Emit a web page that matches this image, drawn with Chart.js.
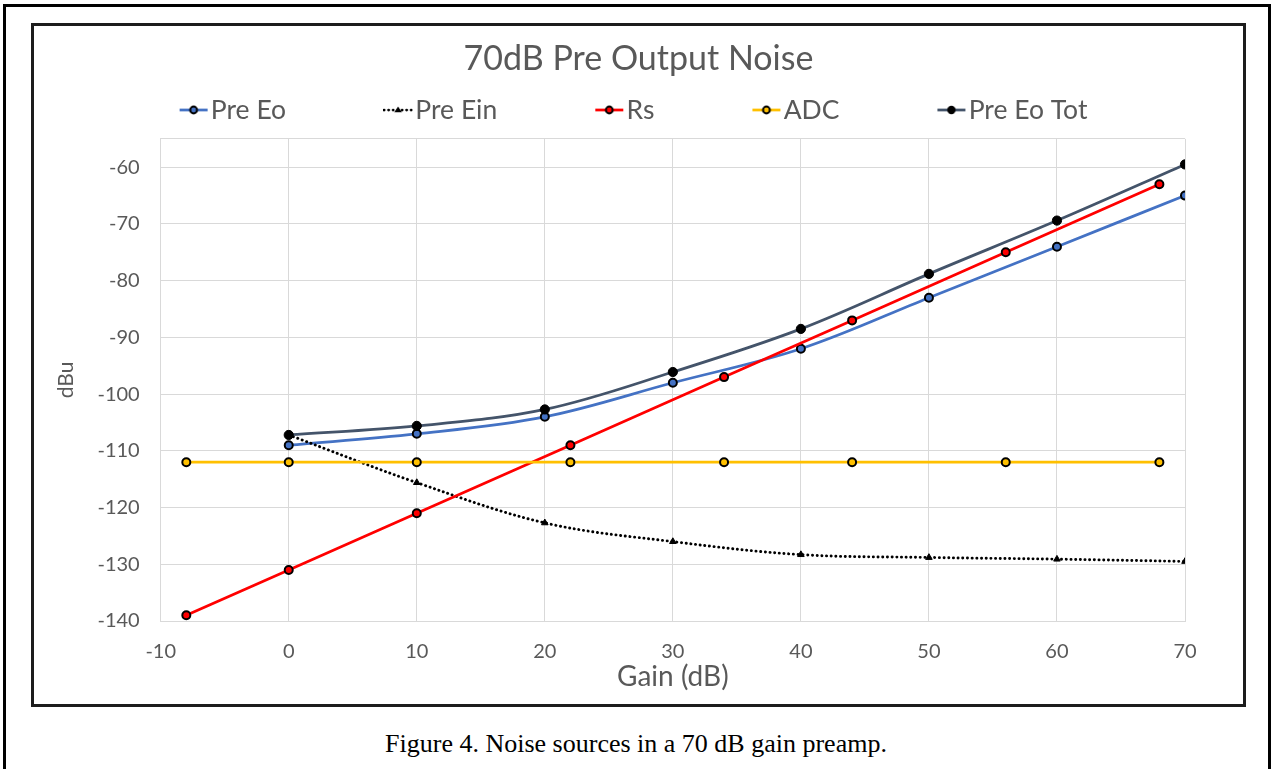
<!DOCTYPE html>
<html><head><meta charset="utf-8">
<script src="https://cdn.jsdelivr.net/npm/chart.js@4.4.1/dist/chart.umd.min.js"></script>
<style>
html,body{margin:0;padding:0;background:#fff;width:1272px;height:769px;overflow:hidden;}
#outer{position:absolute;left:3px;top:4px;width:1268px;height:800px;border:3px solid #000;box-sizing:border-box;}
#inner{position:absolute;left:31px;top:23px;width:1215px;height:684px;border:3px solid #1c1c1c;box-sizing:border-box;background:#fff;}
#wrap{position:absolute;left:34px;top:26px;width:1209px;height:678px;}
#caption{position:absolute;left:0;width:1272px;top:731px;text-align:center;font-family:"Liberation Serif","Times New Roman",serif;font-size:26px;line-height:26px;color:#000;}
</style></head>
<body>
<div id="outer"></div><div id="inner"></div>
<div id="wrap"><canvas id="c" width="1209" height="678"></canvas></div>
<div id="caption">Figure 4. Noise sources in a 70 dB gain preamp.</div>
<script>
// ---- data ----
const chartTitle = '70dB Pre Output Noise';
const xAxisTitle = 'Gain (dB)';
const yAxisTitle = 'dBu';
const seriesNames = ['Pre Eo', 'Pre Ein', 'Rs', 'ADC', 'Pre Eo Tot'];
const gainMain = [0, 10, 20, 30, 40, 50, 60, 70];
const gainRsAdc = [-8, 0, 10, 22, 34, 44, 56, 68];
const preEo = [-109, -107, -104, -98, -92, -83, -74, -65];
const preEin = [-107.2, -115.6, -122.7, -126, -128.3, -128.8, -129.1, -129.5];
const rs = [-139, -131, -121, -109, -97, -87, -75, -63];
const adc = [-112, -112, -112, -112, -112, -112, -112, -112];
const preEoTot = [-107.2, -105.6, -102.7, -96.1, -88.5, -78.8, -69.4, -59.5];
const xTicks = [-10, 0, 10, 20, 30, 40, 50, 60, 70];
const yTicks = [-140, -130, -120, -110, -100, -90, -80, -70, -60];
const yTop = -55;

// ---- styles ----
const colors = ['#4472C4', '#000000', '#FF0000', '#FFC000', '#44546A'];
const textColor = '#595959';
const gridColor = '#D9D9D9';
const FONT = 'Lato';
const LEGEND_FONT = 26.5;

function pts(xs, ys) { return xs.map((x, i) => ({x: x, y: ys[i]})); }

function legendImg(i) {
  const c = document.createElement('canvas');
  c.width = 30; c.height = 14;
  const g = c.getContext('2d');
  g.strokeStyle = colors[i];
  g.lineWidth = 2.75;
  if (i === 1) { g.setLineDash([0.1, 4.4]); g.lineCap = 'round'; }
  g.beginPath(); g.moveTo(1, 7); g.lineTo(29, 7); g.stroke();
  g.setLineDash([]);
  g.beginPath();
  if (i === 1) {
    g.moveTo(15, 3.5); g.lineTo(18.8, 9.2); g.lineTo(11.2, 9.2); g.closePath();
    g.fillStyle = '#000'; g.fill();
  } else if (i === 4) {
    g.arc(15, 7, 4.2, 0, Math.PI * 2); g.fillStyle = '#000'; g.fill();
  } else {
    g.arc(15, 7, 3.4, 0, Math.PI * 2); g.fillStyle = colors[i]; g.fill();
    g.lineWidth = 2; g.strokeStyle = '#000'; g.stroke();
  }
  return c;
}
const legendImgs = seriesNames.map((_, i) => legendImg(i));

const LEGEND_CENTER_Y = 84;
const legendPlace = {
  id: 'legendPlace',
  afterLayout(chart) {
    const lg = chart.legend;
    if (!lg) return;
    const pad = lg.options.labels.padding;
    const fs = lg.options.labels.font.size;
    lg.top = LEGEND_CENTER_Y - fs / 2 - pad;
  }
};

const common = {borderWidth: 2.75, pointBorderColor: '#000', pointBorderWidth: 2, pointRadius: 4, pointHoverRadius: 4};

new Chart(document.getElementById('c'), {
  type: 'line',
  data: {
    datasets: [
      Object.assign({}, common, {label: seriesNames[0], data: pts(gainMain, preEo), borderColor: colors[0], backgroundColor: colors[0], pointBackgroundColor: colors[0], tension: 0.35, order: 4}),
      Object.assign({}, common, {label: seriesNames[1], data: pts(gainMain, preEin), borderColor: '#000', backgroundColor: '#000', pointBackgroundColor: '#000', pointStyle: 'triangle', pointRadius: 3.8, pointBorderWidth: 1, borderWidth: 2.9, borderDash: [0.1, 4.6], borderCapStyle: 'round', tension: 0.35, order: 3}),
      Object.assign({}, common, {label: seriesNames[2], data: pts(gainRsAdc, rs), borderColor: colors[2], backgroundColor: colors[2], pointBackgroundColor: colors[2], tension: 0, order: 2}),
      Object.assign({}, common, {label: seriesNames[3], data: pts(gainRsAdc, adc), borderColor: colors[3], backgroundColor: colors[3], pointBackgroundColor: colors[3], tension: 0, order: 1}),
      Object.assign({}, common, {label: seriesNames[4], data: pts(gainMain, preEoTot), borderColor: colors[4], backgroundColor: '#000', pointBackgroundColor: '#000', pointRadius: 4.6, pointBorderWidth: 1, tension: 0.35, order: 0})
    ]
  },
  options: {
    responsive: false,
    devicePixelRatio: 1,
    animation: false,
    layout: {padding: 0},
    plugins: {
      tooltip: {enabled: false},
      title: {
        display: true, text: chartTitle, color: textColor,
        font: {family: FONT, size: 34, weight: 'normal'},
        padding: {top: 13, bottom: 0}
      },
      legend: {
        display: true, position: 'top', maxHeight: 59.1,
        labels: {
          usePointStyle: true, pointStyleWidth: 8, padding: 108,
          color: textColor, font: {family: FONT, size: LEGEND_FONT},
          generateLabels: (chart) => chart.data.datasets.map((ds, i) => ({
            text: ds.label, pointStyle: legendImgs[i], datasetIndex: i,
            fontColor: textColor, hidden: !chart.isDatasetVisible(i),
            lineWidth: 0, strokeStyle: 'rgba(0,0,0,0)', fillStyle: 'rgba(0,0,0,0)'
          }))
        }
      }
    },
    scales: {
      x: {
        type: 'linear', min: xTicks[0], max: xTicks[xTicks.length - 1],
        afterBuildTicks: (s) => { s.ticks = xTicks.map(v => ({value: v})); },
        afterFit: (s) => { s.height = 83; },
        grid: {color: gridColor, lineWidth: 1, drawTicks: false},
        border: {color: gridColor, width: 1},
        ticks: {color: textColor, font: {family: FONT, size: 20}, padding: 19, maxRotation: 0, autoSkip: false},
        title: {display: true, text: xAxisTitle, color: textColor, font: {family: FONT, size: 28}, padding: {top: 0, bottom: 10}}
      },
      y: {
        type: 'linear', min: yTicks[0], max: yTop,
        afterBuildTicks: (s) => { s.ticks = yTicks.concat([yTop]).map(v => ({value: v})); },
        afterFit: (s) => { s.width = 126.7; },
        grid: {color: gridColor, lineWidth: 1, drawTicks: false},
        border: {color: gridColor, width: 1},
        ticks: {color: textColor, font: {family: FONT, size: 20}, padding: 21, autoSkip: false,
          callback: (v) => (yTicks.indexOf(v) >= 0 ? String(v) : '')},
        title: {display: true, text: yAxisTitle, color: textColor, font: {family: FONT, size: 21}, padding: {top: 20, bottom: 0}}
      },
      yRight: {
        type: 'linear', position: 'right', display: true,
        afterFit: (s) => { s.width = 58; },
        grid: {display: false, drawTicks: false}, border: {display: false},
        ticks: {display: false}, title: {display: false}
      }
    }
  },
  plugins: [legendPlace]
});
</script>
</body></html>
